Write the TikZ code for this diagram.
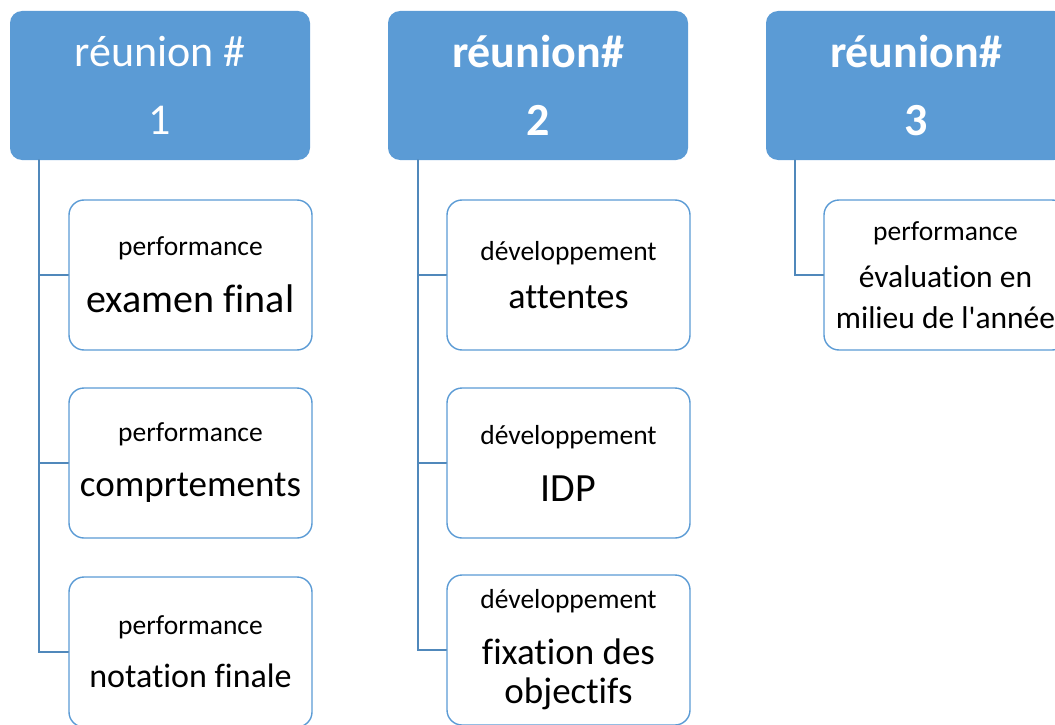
\documentclass[tikz,border=0pt]{standalone}
\usepackage{fontspec}
\setmainfont{Carlito}[Ligatures=NoCommon]
\usetikzlibrary{positioning}
\definecolor{bleu}{HTML}{5B9BD5}
\newcommand\petit[1]{\fontsize{27.5}{30}\selectfont #1}

\begin{document}
\begin{tikzpicture}[x=1pt,y=-1pt,line cap=round] %% organigramme
	\tikzstyle{tete}=[rectangle,rounded corners=12pt,fill=bleu,text=white,minimum width=300pt,minimum height=149pt,align=center,inner sep=0pt,font=\fontsize{44}{68}\selectfont];
	\tikzstyle{tetegras}=[tete,font=\fontsize{46}{68}\selectfont\bfseries];
	\tikzstyle{fils}=[rectangle,rounded corners=15pt,draw=bleu,line width=1.4pt,fill=white,minimum width=243pt,minimum height=150pt,align=center,inner sep=0pt];
	\tikzstyle{lien}=[draw=bleu!88!black,line width=1.6pt];
	%% cadre
	\clip (0,0) rectangle (1055,725);
	%% reunions
	\node[tete] (h1) at (160,85.5) {réunion \#\\1};
	\node[tetegras] (h2) at (538,85.5) {réunion\#\\2};
	\node[tetegras] (h3) at (916,85.5) {réunion\#\\3};
	%% colonne 1
	\node[fils,font=\fontsize{40}{57}\selectfont] (c11) at (190.5,275) {\petit{performance}\\examen final};
	\node[fils,font=\fontsize{37}{55}\selectfont] (c12) at (190.5,463) {\petit{performance}\\comprtements};
	\node[fils,font=\fontsize{34}{53}\selectfont] (c13) at (190.5,652) {\petit{performance}\\notation finale};
	%% colonne 2
	\node[fils,font=\fontsize{36}{50}\selectfont] (c21) at (568.5,275) {\petit{développement}\\[-2pt]attentes};
	\node[fils,font=\fontsize{40}{57}\selectfont] (c22) at (568.5,463) {\petit{développement}\\IDP};
	\node[fils,font=\fontsize{37}{56}\selectfont] (c23) at (568.5,650) {\petit{développement}\\fixation des\\[-17pt]objectifs};
	%% colonne 3
	\node[fils,font=\fontsize{31.5}{47}\selectfont] (c31) at (945.5,275) {\petit{performance}\\évaluation en\\[-6pt]milieu de l\textquotesingle année};
	%% liens
	\foreach \f in {c11,c12,c13} \draw[lien] ([xshift=29pt]h1.south west) |- (\f.west);
	\foreach \f in {c21,c22,c23} \draw[lien] ([xshift=30pt]h2.south west) |- (\f.west);
	\draw[lien] ([xshift=29pt]h3.south west) |- (c31.west);
	% \draw[help lines] (0,0) grid[step=50] (1055,725);
\end{tikzpicture}
\end{document}
